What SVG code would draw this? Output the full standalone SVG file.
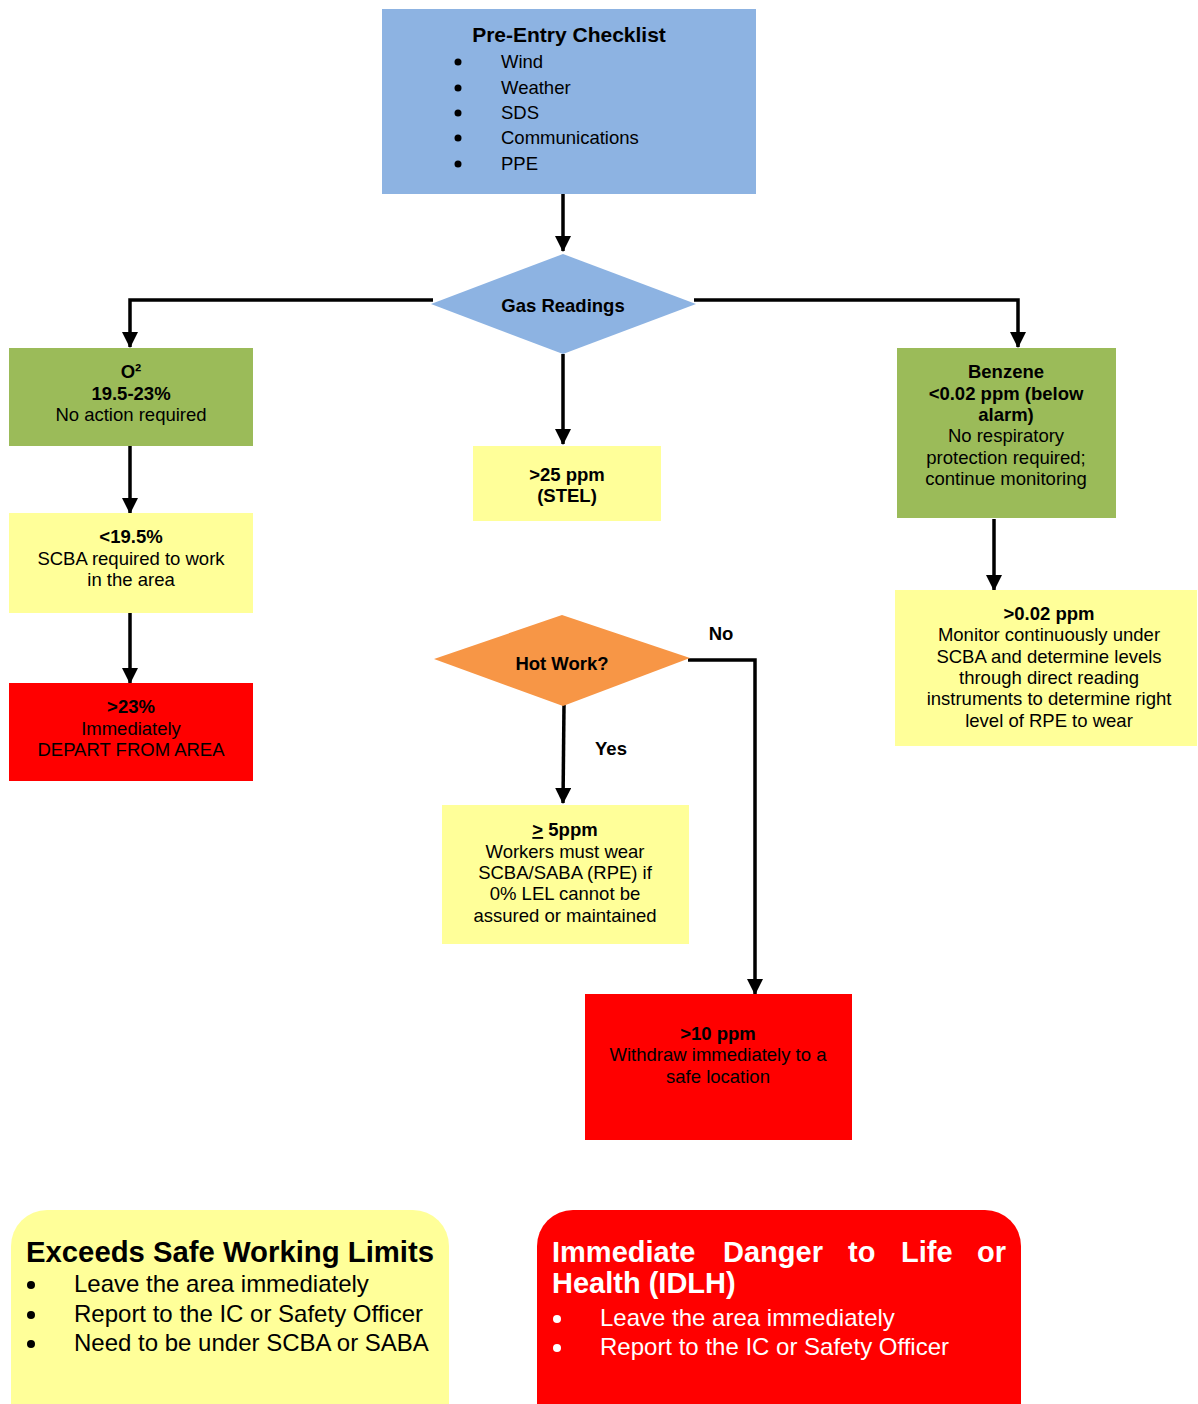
<svg xmlns="http://www.w3.org/2000/svg" width="1198" height="1404" viewBox="0 0 1198 1404">
<style>
text{font-family:"Liberation Sans",Arial,sans-serif;fill:#000}
.t{font-size:18.5px;text-anchor:middle}
.b{font-weight:bold}
.l{font-size:18.5px}
.lg{font-size:24px}
.lgt{font-size:29px;font-weight:bold}
.w{fill:#fff}
.blue{fill:#8DB3E2}
.green{fill:#9BBB59}
.yellow{fill:#FFFF99}
.red{fill:#FF0000}
.orange{fill:#F79646}
.dot{fill:#000}
.wdot{fill:#fff}
.conn{fill:none;stroke:#000;stroke-width:3.5;marker-end:url(#ah)}
</style>
<defs>
<marker id="ah" markerUnits="userSpaceOnUse" markerWidth="16" markerHeight="16" viewBox="0 0 16 16" refX="15" refY="8" orient="auto">
<path d="M0,0 L16,8 L0,16 z" fill="#000"/>
</marker>
</defs>
<rect width="1198" height="1404" fill="#fff"/>

<g id="connectors">
<path class="conn" d="M563,194 V251"/>
<path class="conn" d="M433,300 H130 V347"/>
<path class="conn" d="M694,300 H1018 V347"/>
<path class="conn" d="M563,354 V444"/>
<path class="conn" d="M130,446 V513"/>
<path class="conn" d="M130,613 V683"/>
<path class="conn" d="M994,519 V590"/>
<path class="conn" d="M564,705 L563,803"/>
<path class="conn" d="M688,660 H755 V994"/>
<text class="t b" x="721" y="640">No</text>
<text class="t b" x="611" y="755">Yes</text>
</g>

<g id="pre-entry">
<rect class="blue" x="382" y="9" width="374" height="185"/>
<text class="b" x="569" y="42" style="font-size:21px;text-anchor:middle">Pre-Entry Checklist</text>
<circle class="dot" cx="458" cy="62" r="3.5"/><text class="l" x="501" y="68">Wind</text>
<circle class="dot" cx="458" cy="88" r="3.5"/><text class="l" x="501" y="94">Weather</text>
<circle class="dot" cx="458" cy="113" r="3.5"/><text class="l" x="501" y="119">SDS</text>
<circle class="dot" cx="458" cy="138" r="3.5"/><text class="l" x="501" y="144">Communications</text>
<circle class="dot" cx="458" cy="164" r="3.5"/><text class="l" x="501" y="170">PPE</text>
</g>

<g id="gas-readings">
<polygon class="blue" points="431,304 563,254 696,304 563,354"/>
<text class="t b" x="563" y="312">Gas Readings</text>
</g>

<g id="o2">
<rect class="green" x="9" y="348" width="244" height="98"/>
<text class="t b" x="131" y="378">O²</text>
<text class="t b" x="131" y="400">19.5-23%</text>
<text class="t" x="131" y="421">No action required</text>
</g>

<g id="o2-low">
<rect class="yellow" x="9" y="513" width="244" height="100"/>
<text class="t b" x="131" y="543">&lt;19.5%</text>
<text class="t" x="131" y="565">SCBA required to work</text>
<text class="t" x="131" y="586">in the area</text>
</g>

<g id="o2-high">
<rect class="red" x="9" y="683" width="244" height="98"/>
<text class="t b" x="131" y="713">&gt;23%</text>
<text class="t" x="131" y="735">Immediately</text>
<text class="t" x="131" y="756">DEPART FROM AREA</text>
</g>

<g id="stel">
<rect class="yellow" x="473" y="446" width="188" height="75"/>
<text class="t b" x="567" y="481">&gt;25 ppm</text>
<text class="t b" x="567" y="502">(STEL)</text>
</g>

<g id="benzene">
<rect class="green" x="897" y="348" width="219" height="170"/>
<text class="t b" x="1006" y="378">Benzene</text>
<text class="t b" x="1006" y="400">&lt;0.02 ppm (below</text>
<text class="t b" x="1006" y="421">alarm)</text>
<text class="t" x="1006" y="442">No respiratory</text>
<text class="t" x="1006" y="464">protection required;</text>
<text class="t" x="1006" y="485">continue monitoring</text>
</g>

<g id="benzene-high">
<rect class="yellow" x="895" y="590" width="302" height="156"/>
<text class="t b" x="1049" y="620">&gt;0.02 ppm</text>
<text class="t" x="1049" y="641">Monitor continuously under</text>
<text class="t" x="1049" y="663">SCBA and determine levels</text>
<text class="t" x="1049" y="684">through direct reading</text>
<text class="t" x="1049" y="705">instruments to determine right</text>
<text class="t" x="1049" y="727">level of RPE to wear</text>
</g>

<g id="hot-work">
<polygon class="orange" points="434,659 562,615 690,658 563,706"/>
<text class="t b" x="562" y="670">Hot Work?</text>
</g>

<g id="five-ppm">
<rect class="yellow" x="442" y="805" width="247" height="139"/>
<text class="t b" x="565" y="836"><tspan text-decoration="underline">&gt;</tspan> 5ppm</text>
<text class="t" x="565" y="858">Workers must wear</text>
<text class="t" x="565" y="879">SCBA/SABA (RPE) if</text>
<text class="t" x="565" y="900">0% LEL cannot be</text>
<text class="t" x="565" y="922">assured or maintained</text>
</g>

<g id="ten-ppm">
<rect class="red" x="585" y="994" width="267" height="146"/>
<text class="t b" x="718" y="1040">&gt;10 ppm</text>
<text class="t" x="718" y="1061">Withdraw immediately to a</text>
<text class="t" x="718" y="1083">safe location</text>
</g>

<g id="legend-exceeds">
<rect class="yellow" x="11" y="1210" width="438" height="240" rx="36" ry="36"/>
<text class="lgt" x="26" y="1262" textLength="408" lengthAdjust="spacingAndGlyphs">Exceeds Safe Working Limits</text>
<circle class="dot" cx="31" cy="1285" r="4"/><text class="lg" x="74" y="1292">Leave the area immediately</text>
<circle class="dot" cx="31" cy="1315" r="4"/><text class="lg" x="74" y="1322">Report to the IC or Safety Officer</text>
<circle class="dot" cx="31" cy="1344" r="4"/><text class="lg" x="74" y="1351">Need to be under SCBA or SABA</text>
</g>

<g id="legend-idlh">
<rect class="red" x="537" y="1210" width="484" height="240" rx="36" ry="36"/>
<text class="lgt w" y="1262"><tspan x="552">Immediate</tspan><tspan x="723">Danger</tspan><tspan x="848">to</tspan><tspan x="901">Life</tspan><tspan x="977">or</tspan></text>
<text class="lgt w" x="552" y="1293">Health (IDLH)</text>
<circle class="wdot" cx="557" cy="1319" r="4"/><text class="lg w" x="600" y="1326">Leave the area immediately</text>
<circle class="wdot" cx="557" cy="1348" r="4"/><text class="lg w" x="600" y="1355">Report to the IC or Safety Officer</text>
</g>
</svg>
